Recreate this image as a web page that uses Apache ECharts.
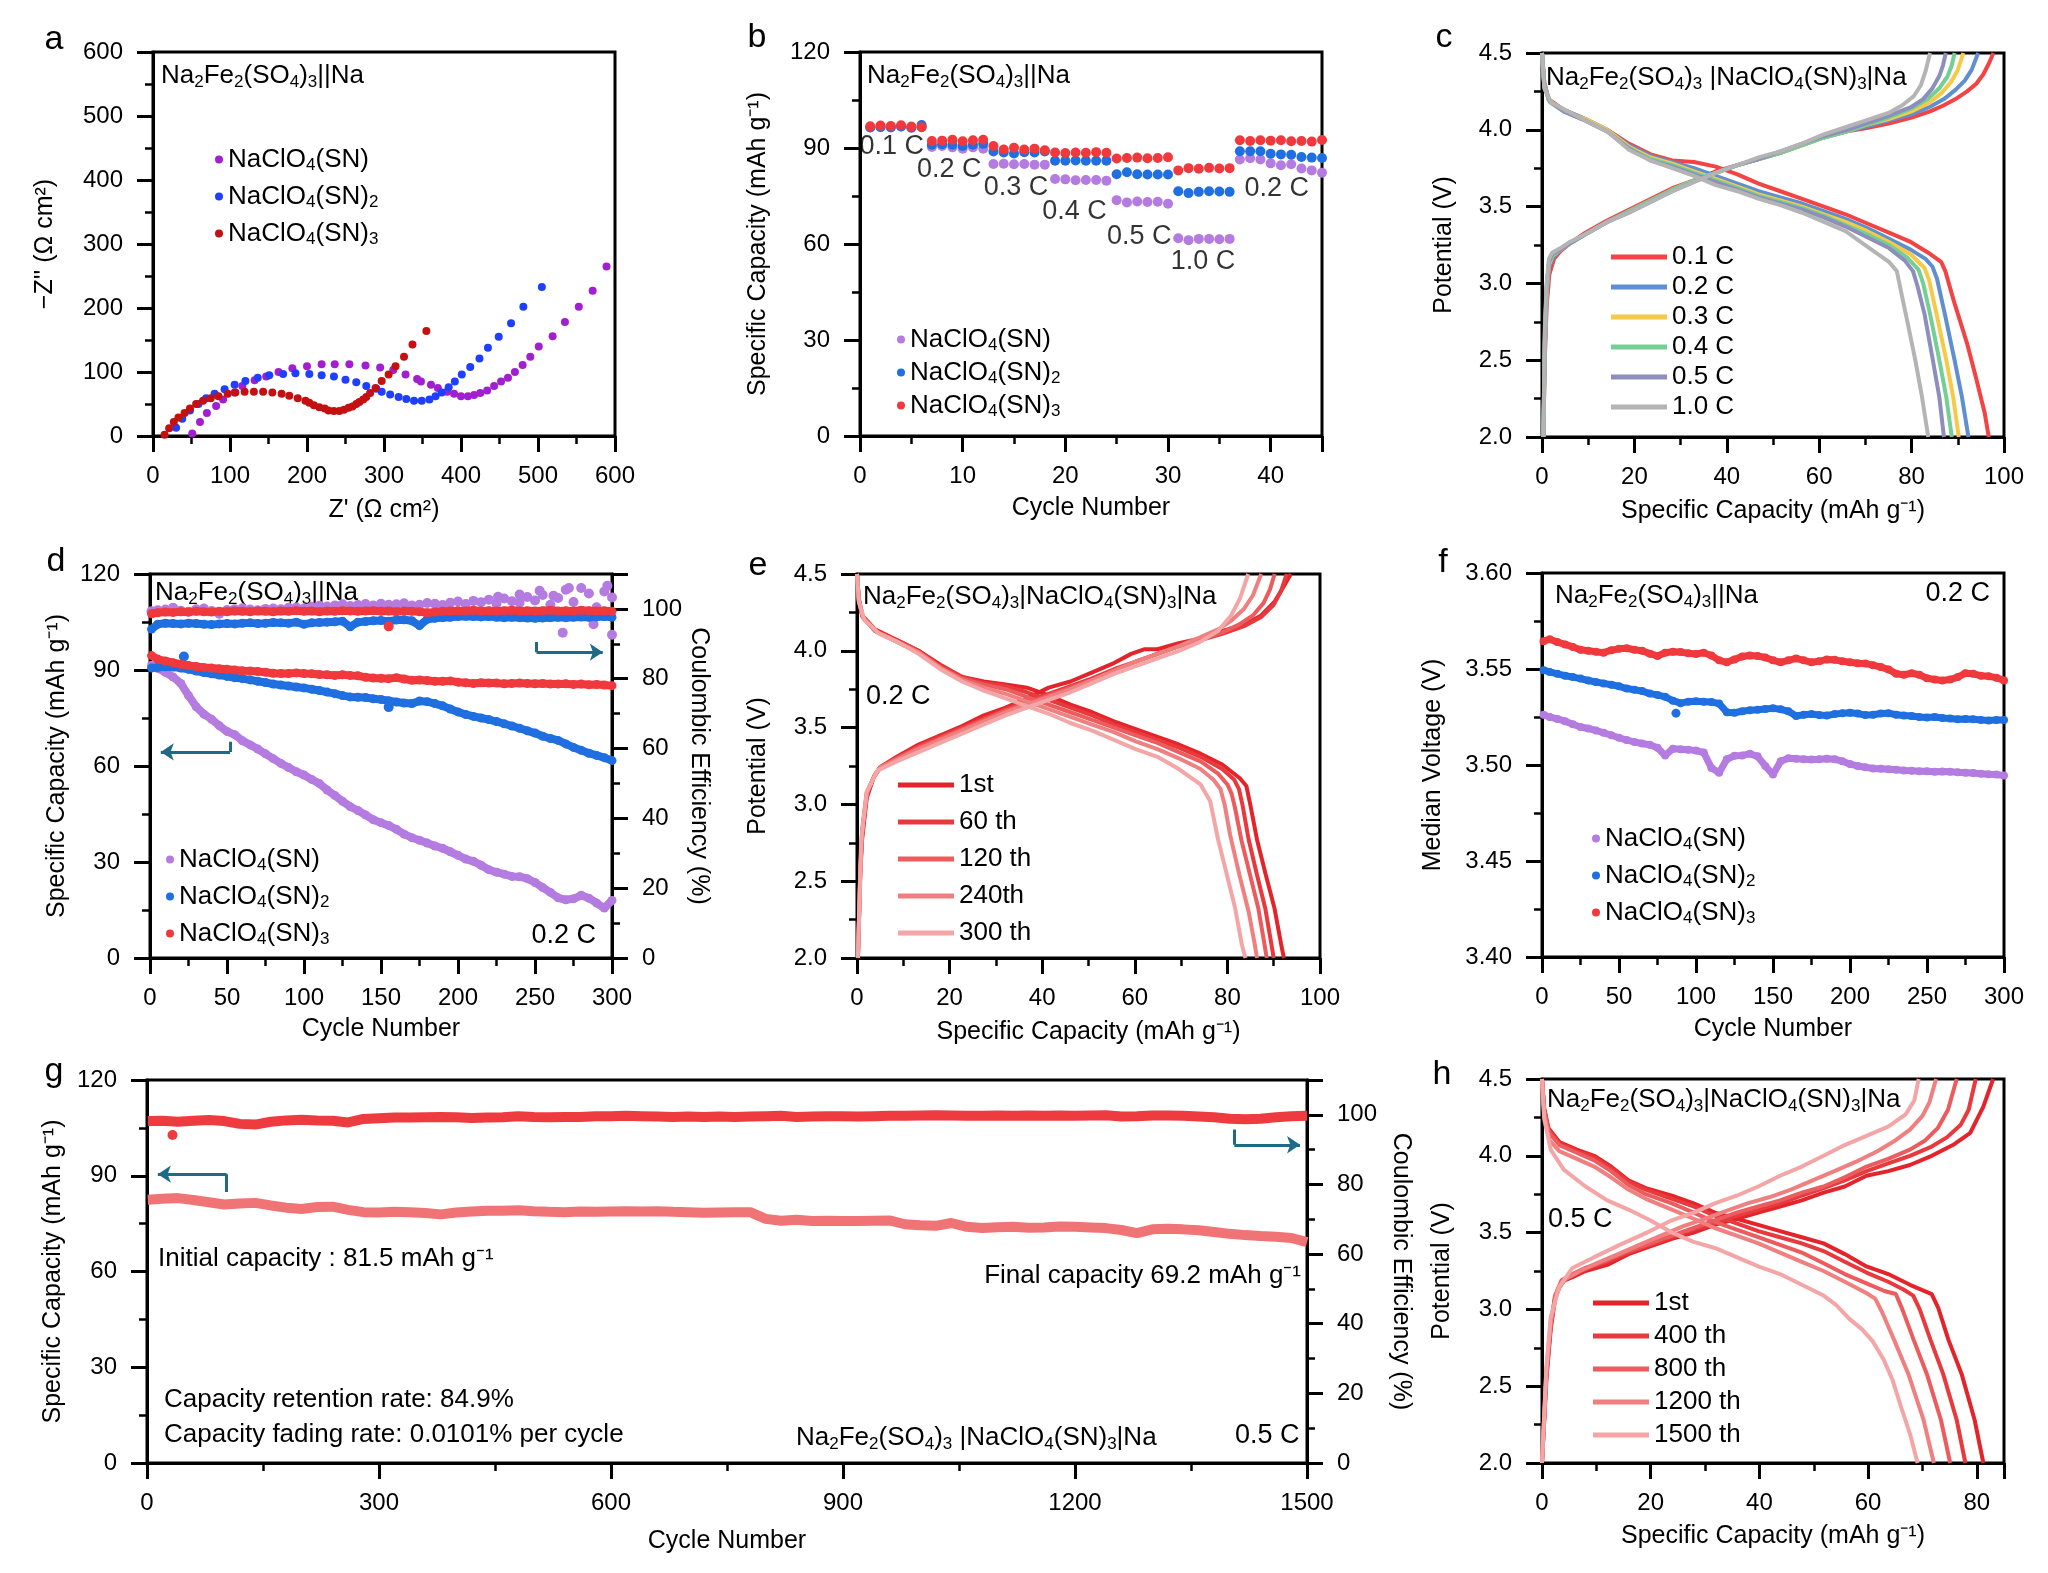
<!DOCTYPE html>
<html lang="en">
<head>
<meta charset="UTF-8">
<title>Na2Fe2(SO4)3 electrochemistry</title>
<script src="https://cdn.jsdelivr.net/npm/echarts@6/dist/echarts.min.js"></script>
<style>
  html, body { margin: 0; padding: 0; background: #fff; }
  #chart { position: relative; width: 2048px; height: 1573px; background: #fff; }
  .panel { position: absolute; left: 0; top: 0; width: 2048px; height: 1573px; }
</style>
</head>
<body>
<div id="chart"></div>
<script>
// ---------- data ----------
// a: Nyquist plots [Z', -Z'']
var aSN1 = [[51,4],[61,22],[70,36],[82,47],[91,57],[106,68],[116,78],[132,87],[147,93],[163,100],[181,106],[200,109],[219,112],[236,112],[255,112],[276,110],[295,107],[312,103],[328,96],[343,89],[348,85],[361,80],[370,75],[382,69],[391,66],[400,62],[409,62],[417,64],[425,67],[434,71],[443,78],[452,85],[461,91],[470,100],[480,111],[490,124],[501,140],[519,156],[535,178],[553,202],[571,227],[589,265]];
var aSN2 = [[30,13],[38,27],[48,40],[59,50],[69,59],[80,66],[93,73],[106,80],[120,86],[136,91],[151,95],[169,97],[185,98],[203,97],[219,95],[235,93],[250,88],[264,84],[277,78],[290,74],[297,69],[308,65],[319,61],[329,58],[339,55],[349,55],[359,57],[367,62],[375,68],[384,76],[392,85],[401,96],[412,108],[424,121],[435,138],[449,155],[465,176],[481,202],[505,233]];
var aSN3 = [[15,2],[21,12],[27,22],[33,29],[41,36],[48,43],[56,50],[65,55],[75,59],[85,62],[97,66],[107,68],[119,69],[131,69],[143,69],[155,68],[167,66],[177,63],[188,59],[198,55],[203,52],[209,48],[216,45],[223,43],[228,40],[235,39],[242,39],[248,41],[254,44],[259,46],[264,50],[268,53],[273,57],[277,61],[282,67],[289,75],[297,86],[306,96],[315,109],[326,124],[337,143],[355,164]];

// b: rate capability
var bCycles = [1,2,3,4,5,6,7,8,9,10,11,12,13,14,15,16,17,18,19,20,21,22,23,24,25,26,27,28,29,30,31,32,33,34,35,36,37,38,39,40,41,42,43,44,45];
var bSN1 = [96.5,96.5,96.4,96.7,96.3,96.6, 90.3,90.6,90.2,89.8,90.2,89.8, 85.0,85.1,84.9,85.0,84.8,84.8, 80.3,80.2,79.9,80.0,80.0,79.8, 73.7,73.0,73.3,73.1,73.2,72.6, 61.8,61.2,61.6,61.6,61.5,61.6, 86.4,86.8,86.4,85.2,84.6,84.9,83.6,83.0,82.3];
var bSN2 = [96.4,96.6,96.5,96.7,96.4,97.2, 91.0,91.2,91.0,90.6,91.0,91.3, 88.9,88.6,88.3,88.7,88.6,88.9, 86.0,86.0,86.1,86.0,86.0,86.0, 81.8,82.4,81.8,81.7,81.7,81.7, 76.5,75.9,76.3,76.5,76.4,76.3, 89.0,89.0,89.0,88.2,88.0,87.9,87.2,87.0,86.9];
var bSN3 = [96.8,97.0,96.9,97.1,96.7,96.5, 92.2,92.3,92.6,92.1,92.4,92.6, 90.6,89.5,90.1,89.5,89.8,89.3, 88.6,88.4,88.6,88.5,88.7,88.5, 86.7,86.9,87.0,86.8,86.9,87.1, 83.0,83.7,83.5,83.8,83.6,83.7, 92.4,92.2,92.4,92.3,92.4,92.1,92.2,92.0,92.5];
var bRateText = ['0.1 C','0.2 C','0.3 C','0.4 C','0.5 C','1.0 C','0.2 C'];
var bRateAt = [[3.1,90.3],[8.7,83.4],[15.2,77.5],[20.9,70],[27.2,62.2],[33.4,54.4],[40.6,77.2]];

// c: charge / discharge at different rates [capacity, potential]
var cRates = ['0.1 C','0.2 C','0.3 C','0.4 C','0.5 C','1.0 C'];
var cChg01 = [[0.3,2.0],[0.6,2.5],[1.0,2.85],[1.6,3.06],[2.6,3.16],[4,3.21],[6,3.26],[9.4,3.33],[14.1,3.41],[18.8,3.48],[23.5,3.55],[28.2,3.62],[32.9,3.67],[37.6,3.73],[42.3,3.77],[46.9,3.81],[51.6,3.85],[56.3,3.9],[61,3.95],[66,3.99],[70,4.01],[75,4.04],[80,4.08],[84,4.12],[87,4.16],[89.5,4.2],[92,4.25],[94,4.3],[95.5,4.36],[96.7,4.43],[97.7,4.5]];
var cChg02 = [[0.3,2.0],[0.6,2.55],[1.0,2.9],[1.5,3.1],[2.4,3.17],[4,3.22],[6,3.26],[9.4,3.32],[14.1,3.4],[18.8,3.47],[23.5,3.54],[28.2,3.61],[32.9,3.67],[37.6,3.72],[42.3,3.77],[46.9,3.81],[51.6,3.85],[56.3,3.9],[61,3.95],[66,3.99],[70,4.02],[75,4.06],[80,4.1],[84,4.15],[87,4.2],[89.5,4.26],[91.5,4.32],[93,4.39],[94.4,4.5]];
var cChg03 = [[0.3,2.0],[0.6,2.6],[1.0,2.95],[1.5,3.12],[2.3,3.18],[4,3.22],[6,3.26],[9.4,3.32],[14.1,3.4],[18.8,3.47],[23.5,3.54],[28.2,3.61],[32.9,3.67],[37.6,3.72],[42.3,3.77],[46.9,3.81],[51.6,3.85],[56.3,3.9],[61,3.95],[66,3.99],[70,4.03],[75,4.07],[80,4.12],[84,4.18],[86.5,4.24],[88.5,4.31],[90,4.39],[91.2,4.5]];
var cChg04 = [[0.3,2.0],[0.6,2.62],[1.0,2.97],[1.5,3.13],[2.3,3.18],[4,3.22],[6,3.26],[9.4,3.32],[14.1,3.4],[18.8,3.47],[23.5,3.54],[28.2,3.61],[32.9,3.67],[37.6,3.72],[42.3,3.77],[46.9,3.81],[51.6,3.85],[56.3,3.9],[61,3.95],[66,3.99],[70,4.03],[75,4.08],[80,4.14],[83.5,4.2],[86,4.27],[87.8,4.35],[88.7,4.42],[89.3,4.5]];
var cChg05 = [[0.3,2.0],[0.6,2.65],[1.0,2.98],[1.5,3.14],[2.2,3.19],[4,3.22],[6,3.26],[9.4,3.32],[14.1,3.4],[18.8,3.46],[23.5,3.53],[28.2,3.6],[32.9,3.66],[37.6,3.72],[42.3,3.77],[46.9,3.81],[51.6,3.86],[56.3,3.91],[61,3.96],[66,4.0],[70,4.04],[75,4.09],[80,4.15],[82.5,4.2],[84.5,4.27],[86,4.35],[86.8,4.42],[87.4,4.5]];
var cChg10 = [[0.3,2.0],[0.6,2.7],[1.0,3.0],[1.5,3.16],[2.2,3.2],[4,3.23],[6,3.27],[9.4,3.32],[14.1,3.4],[18.8,3.46],[23.5,3.53],[28.2,3.6],[32.9,3.66],[37.6,3.72],[42.3,3.77],[46.9,3.82],[51.6,3.86],[56.3,3.91],[61,3.97],[66,4.02],[70,4.06],[75,4.11],[78,4.16],[80.5,4.22],[82,4.29],[83,4.38],[84,4.5]];
var cDis01 = [[0,4.5],[0.5,4.31],[1.4,4.2],[4.7,4.13],[9.4,4.07],[14.1,4.0],[18.8,3.91],[23.5,3.84],[28.2,3.8],[32.9,3.79],[37.6,3.76],[42.3,3.71],[46.9,3.65],[51.6,3.6],[56.3,3.55],[61,3.5],[65.7,3.45],[70.4,3.39],[75.1,3.33],[79.8,3.27],[83.6,3.2],[86.4,3.14],[87.3,3.08],[89.2,2.88],[92.0,2.61],[93.9,2.39],[95.8,2.16],[96.7,2.0]];
var cDis02 = [[0,4.5],[0.5,4.3],[1.5,4.19],[4.7,4.13],[9.4,4.07],[14.1,4.0],[18.8,3.9],[23.5,3.83],[28.2,3.79],[32.9,3.75],[37.6,3.7],[42.3,3.65],[46.9,3.6],[51.6,3.56],[56.3,3.52],[61,3.47],[65.7,3.42],[70.4,3.36],[75.1,3.29],[79.8,3.22],[83,3.16],[84.5,3.11],[85.5,3.03],[87.2,2.8],[89.3,2.5],[90.9,2.26],[92.3,2.0]];
var cDis03 = [[0,4.5],[0.5,4.29],[1.6,4.19],[4.7,4.12],[9.4,4.07],[14.1,4.0],[18.8,3.89],[23.5,3.82],[28.2,3.78],[32.9,3.73],[37.6,3.68],[42.3,3.63],[46.9,3.58],[51.6,3.54],[56.3,3.5],[61,3.45],[65.7,3.4],[70.4,3.34],[75.1,3.27],[79.8,3.19],[82.8,3.1],[83.8,3.02],[85.4,2.8],[87.5,2.5],[89.0,2.26],[90.2,2.0]];
var cDis04 = [[0,4.5],[0.5,4.28],[1.7,4.18],[4.7,4.12],[9.4,4.06],[14.1,3.99],[18.8,3.88],[23.5,3.81],[28.2,3.77],[32.9,3.72],[37.6,3.67],[42.3,3.62],[46.9,3.57],[51.6,3.53],[56.3,3.49],[61,3.44],[65.7,3.38],[70.4,3.32],[75.1,3.25],[79,3.17],[81.5,3.09],[82.5,3.0],[84,2.8],[86,2.5],[87.5,2.26],[88.7,2.0]];
var cDis05 = [[0,4.5],[0.5,4.28],[1.8,4.18],[4.7,4.12],[9.4,4.06],[14.1,3.99],[18.8,3.88],[23.5,3.8],[28.2,3.76],[32.9,3.71],[37.6,3.66],[42.3,3.61],[46.9,3.56],[51.6,3.52],[56.3,3.48],[61,3.43],[65.7,3.37],[70.4,3.3],[75.1,3.23],[78.5,3.15],[80.3,3.08],[81.3,2.98],[82.8,2.8],[84.6,2.5],[86.0,2.26],[87.0,2.0]];
var cDis10 = [[0,4.5],[0.5,4.27],[1.9,4.18],[5.6,4.12],[9.4,4.06],[14.1,3.99],[18.8,3.87],[23.5,3.8],[28.2,3.75],[32.9,3.7],[37.6,3.64],[42.3,3.6],[46.9,3.55],[51.6,3.51],[56.3,3.46],[61,3.4],[65.7,3.34],[70.4,3.24],[75.1,3.14],[76.8,3.08],[77.9,2.92],[79.3,2.72],[80.8,2.5],[82.2,2.27],[83.6,2.0]];

// d: cycling at 0.2 C, capacity (left) and coulombic efficiency (right)
var dCycles = [1,5,10,15,20,25,30,35,40,45,50,55,60,65,70,75,80,85,90,95,100,105,110,115,120,125,130,135,140,145,150,155,160,165,170,175,180,185,190,195,200,205,210,215,220,225,230,235,240,245,250,255,260,265,270,275,280,285,290,295,300];
var dCapSN1 = [91.5,90.5,89.3,87.8,85.8,82.0,78.5,76.2,74.6,72.6,70.8,69.8,67.9,66.6,65.3,63.8,62.3,60.8,59.5,58.2,57.2,55.8,54.5,52.5,50.8,49.0,47.3,46.1,44.7,43.2,42.3,41.4,40.2,38.7,37.6,36.8,35.9,35.0,34.3,33.2,32.1,30.9,30.2,29.0,27.6,26.8,26.2,25.5,25.4,24.8,23.6,22.0,20.5,18.8,18.2,18.5,19.6,18.7,17.2,15.6,18.0];
var dCapSN2 = [90.6,90.8,91.0,90.9,90.6,90.2,89.7,89.2,88.8,88.4,88.0,87.6,87.3,86.9,86.5,86.1,85.6,85.3,85.0,84.7,84.4,84.0,83.6,83.1,82.6,82.0,81.6,81.5,81.4,81.0,80.8,80.4,80.0,79.7,79.5,80.3,80.1,79.5,78.8,77.8,76.9,76.1,75.5,75.0,74.5,73.9,73.2,72.5,71.8,71.0,70.3,69.3,68.6,68.0,66.9,65.8,64.9,64.0,63.3,62.6,61.7];
var dCapSN3 = [94.5,93.4,92.8,92.3,91.8,91.4,91.1,90.8,90.6,90.4,90.2,90.0,89.8,89.7,89.5,89.3,89.0,88.9,88.9,89.1,88.9,88.8,88.6,88.5,88.3,88.5,88.3,88.2,87.7,87.5,87.4,87.3,87.6,87.2,86.8,86.9,86.7,86.5,86.5,86.6,86.2,86.0,85.8,86.0,85.9,85.9,85.7,85.8,85.9,85.8,85.7,85.8,85.6,85.6,85.7,85.5,85.6,85.4,85.5,85.3,85.1];
var dCeSN1 = [99.3,99.6,99.8,100.3,99.5,99.2,99.9,100.1,99.4,98.6,99.7,99.9,100.2,99.8,99.6,100.0,100.1,99.9,100.3,100.4,100.1,100.6,100.9,100.7,101.0,101.3,100.8,101.1,101.4,101.0,101.5,101.2,101.3,101.6,101.0,101.2,101.7,101.5,101.1,101.8,102.1,101.4,102.3,101.9,102.6,101.5,103.0,102.2,101.8,103.4,102.4,104.0,101.2,103.1,105.5,102.0,98.6,104.4,100.5,105.0,92.6];
var dCeSN2 = [94.2,95.6,95.9,95.8,95.7,95.9,95.8,95.6,95.5,95.7,95.8,95.7,95.9,96.0,95.8,95.9,96.1,96.0,95.9,96.2,95.6,96.0,96.1,96.2,96.3,96.5,94.9,96.2,96.4,96.6,96.7,96.5,96.8,96.9,96.6,95.2,97.0,97.3,97.5,97.6,97.8,97.9,97.8,97.7,97.8,97.6,97.5,97.6,97.5,97.4,97.3,97.4,97.5,97.6,97.5,97.6,97.7,97.6,97.7,97.8,97.6];
var dCeSN3 = [98.6,98.9,99.1,99.0,99.2,99.1,99.3,99.2,99.1,99.3,99.2,99.4,99.3,99.2,99.4,99.3,99.2,99.4,99.3,99.5,99.3,99.4,99.2,99.4,99.3,99.5,99.4,99.3,99.4,99.5,99.3,99.4,99.2,99.4,99.3,99.2,98.9,99.1,99.3,99.4,99.5,99.4,99.6,99.4,99.5,99.4,99.5,99.6,99.4,99.5,99.4,99.5,99.6,99.4,99.5,99.4,99.6,99.5,99.4,99.5,99.3];
var dCeSN1Extra = [[226,103.5],[240,104.1],[253,105.2],[262,103.8],[268,93.2],[272,106.0],[280,106.0],[288,95.6],[297,106.6],[300,103.3]];
var dCapSN2Extra = [[22,94.2],[155,78.4]];
var dCeSN3Extra = [[155,95.0]];
var dArrowLeft = [[52,67.6],[52,64.4],[7,64.4]];
var dArrowRight = [[251,90.5],[251,87.6],[294,87.6]];

// e: NaClO4(SN)3 cell at 0.2 C, selected cycles
var eCyc = ['1st','60 th','120 th','240th','300 th'];
var eChg1 = [[0.2,2.0],[0.7,2.54],[1.1,2.77],[2.1,3.04],[3.5,3.17],[4.9,3.24],[8.6,3.31],[13.3,3.39],[18,3.45],[22.7,3.51],[27.4,3.58],[32.1,3.63],[36.7,3.69],[41.4,3.76],[46.1,3.8],[50.8,3.86],[55.5,3.92],[59.2,3.98],[62,4.01],[64.9,4.01],[69.5,4.05],[74.2,4.08],[78.9,4.13],[83.6,4.17],[87.3,4.23],[90.2,4.32],[92,4.41],[93.7,4.5]];
var eChg60 = [[0.2,2.0],[0.7,2.56],[1.1,2.8],[2.1,3.06],[3.7,3.18],[5,3.24],[8.6,3.3],[13.3,3.38],[18,3.44],[22.7,3.5],[27.4,3.56],[32.1,3.62],[36.7,3.67],[41.4,3.72],[46.1,3.77],[50.8,3.82],[55.5,3.88],[60.2,3.93],[64.9,3.98],[69.5,4.03],[74.2,4.07],[78.9,4.11],[83.6,4.16],[87.3,4.22],[90,4.3],[91.6,4.39],[92.8,4.5]];
var eChg120 = [[0.2,2.0],[0.7,2.58],[1.1,2.82],[2.1,3.07],[3.8,3.19],[5,3.24],[8.6,3.3],[13.3,3.37],[18,3.43],[22.7,3.49],[27.4,3.55],[32.1,3.61],[36.7,3.66],[41.4,3.71],[46.1,3.76],[50.8,3.81],[55.5,3.87],[60.2,3.93],[64.9,3.98],[69.5,4.03],[74.2,4.07],[78.9,4.12],[82.5,4.17],[85.5,4.23],[87.8,4.31],[89.2,4.4],[90.2,4.5]];
var eChg240 = [[0.2,2.0],[0.8,2.62],[1.2,2.86],[2.1,3.08],[4,3.2],[5,3.24],[8.6,3.29],[13.3,3.36],[18,3.42],[22.7,3.48],[27.4,3.54],[32.1,3.6],[36.7,3.65],[41.4,3.7],[46.1,3.75],[50.8,3.81],[55.5,3.87],[60.2,3.93],[64.9,3.98],[69.5,4.03],[74.2,4.09],[78,4.14],[81,4.2],[83.5,4.27],[85.5,4.36],[87.3,4.5]];
var eChg300 = [[0.2,2.0],[0.9,2.77],[2.1,3.08],[4.4,3.22],[8.6,3.28],[13.3,3.34],[18,3.4],[22.7,3.46],[27.4,3.52],[32.1,3.58],[36.7,3.63],[41.4,3.68],[46.1,3.73],[50.8,3.79],[55.5,3.85],[60.2,3.9],[64.9,3.95],[69.5,4.0],[74.2,4.06],[78,4.13],[80.8,4.23],[82.7,4.34],[84.5,4.5]];
var eDis1 = [[0,4.5],[0.4,4.34],[1.1,4.23],[3.9,4.14],[8.6,4.07],[13.3,4.0],[18,3.91],[22.7,3.83],[27.4,3.8],[32.1,3.78],[36.7,3.76],[41.4,3.71],[46.1,3.65],[50.8,3.6],[55.5,3.54],[60.2,3.49],[64.9,3.44],[69.5,3.39],[74.2,3.33],[78.9,3.26],[82.7,3.17],[84.1,3.12],[85,2.99],[86.4,2.77],[88.3,2.54],[90.2,2.32],[91.6,2.09],[92.2,2.0]];
var eDis60 = [[0,4.5],[0.4,4.33],[1.2,4.22],[3.9,4.13],[8.6,4.07],[13.3,4.0],[18,3.9],[22.7,3.83],[27.4,3.79],[32.1,3.77],[36.7,3.73],[41.4,3.68],[46.1,3.63],[50.8,3.58],[55.5,3.52],[60.2,3.47],[64.9,3.42],[69.5,3.37],[74.2,3.31],[78.9,3.23],[81.5,3.16],[82.5,3.1],[83.3,2.99],[84.6,2.77],[86.4,2.54],[88.2,2.32],[89.5,2.09],[90,2.0]];
var eDis120 = [[0,4.5],[0.4,4.33],[1.3,4.22],[3.9,4.13],[8.6,4.06],[13.3,3.99],[18,3.89],[22.7,3.82],[27.4,3.78],[32.1,3.75],[36.7,3.7],[41.4,3.65],[46.1,3.6],[50.8,3.55],[55.5,3.5],[60.2,3.45],[64.9,3.4],[69.5,3.34],[74.2,3.28],[78,3.2],[80,3.13],[80.9,3.07],[81.7,2.97],[83,2.77],[84.9,2.54],[86.7,2.32],[88,2.09],[88.5,2.0]];
var eDis240 = [[0,4.5],[0.4,4.32],[1.4,4.21],[4.4,4.12],[8.6,4.06],[13.3,3.99],[18,3.89],[22.7,3.81],[27.4,3.76],[32.1,3.72],[36.7,3.67],[41.4,3.62],[46.1,3.57],[50.8,3.52],[55.5,3.47],[60.2,3.41],[64.9,3.36],[69.5,3.3],[74.2,3.23],[77,3.16],[78.5,3.1],[79.4,3.0],[80.6,2.8],[82.6,2.54],[84.6,2.3],[85.9,2.09],[86.4,2.0]];
var eDis300 = [[0,4.5],[0.4,4.32],[1.6,4.2],[4.9,4.11],[8.6,4.06],[13.3,3.98],[18,3.88],[22.7,3.8],[27.4,3.74],[32.1,3.69],[36.7,3.64],[41.4,3.59],[46.1,3.53],[50.8,3.48],[55.5,3.42],[60.2,3.36],[64.9,3.31],[69.5,3.23],[74.2,3.13],[76.3,3.02],[78,2.77],[79.9,2.54],[81.7,2.32],[83.1,2.09],[83.9,2.0]];

// f: median voltage
var fSN1 = [3.5262,3.5250,3.5240,3.5228,3.5212,3.5198,3.5190,3.5180,3.5168,3.5155,3.5142,3.5130,3.5120,3.5112,3.5105,3.5090,3.5050,3.5085,3.5082,3.5080,3.5075,3.5065,3.4985,3.4960,3.5030,3.5048,3.5050,3.5058,3.5045,3.4995,3.4950,3.5020,3.5035,3.5032,3.5030,3.5028,3.5030,3.5032,3.5030,3.5020,3.5005,3.4995,3.4988,3.4982,3.4980,3.4978,3.4975,3.4972,3.4970,3.4968,3.4968,3.4965,3.4966,3.4965,3.4962,3.4960,3.4958,3.4955,3.4952,3.4950,3.4945];
var fSN2 = [3.5494,3.5485,3.5475,3.5465,3.5458,3.5450,3.5440,3.5432,3.5425,3.5418,3.5410,3.5398,3.5392,3.5385,3.5372,3.5365,3.5355,3.5335,3.5322,3.5330,3.5332,3.5330,3.5328,3.5320,3.5275,3.5272,3.5280,3.5285,3.5288,3.5292,3.5295,3.5290,3.5280,3.5255,3.5262,3.5265,3.5260,3.5258,3.5265,3.5270,3.5272,3.5268,3.5260,3.5262,3.5268,3.5270,3.5262,3.5258,3.5255,3.5250,3.5248,3.5250,3.5245,3.5242,3.5238,3.5240,3.5238,3.5235,3.5232,3.5235,3.5235];
var fSN3 = [3.5645,3.5655,3.5640,3.5628,3.5615,3.5600,3.5595,3.5590,3.5585,3.5598,3.5605,3.5608,3.5600,3.5595,3.5580,3.5568,3.5585,3.5590,3.5588,3.5582,3.5578,3.5585,3.5570,3.5545,3.5535,3.5550,3.5565,3.5570,3.5568,3.5560,3.5545,3.5535,3.5545,3.5555,3.5545,3.5535,3.5540,3.5550,3.5548,3.5540,3.5535,3.5530,3.5528,3.5520,3.5510,3.5498,3.5475,3.5470,3.5478,3.5470,3.5452,3.5445,3.5440,3.5445,3.5458,3.5478,3.5475,3.5465,3.5462,3.5455,3.5440];
var fSN2Extra = [[87,3.527]];

// g: long cycling at 0.5 C
var gCycles = [1,20,40,60,80,100,120,140,160,180,200,220,240,260,280,300,320,340,360,380,400,420,440,460,480,500,520,540,560,580,600,620,640,660,680,700,720,740,760,780,800,820,840,860,880,900,920,940,960,980,1000,1020,1040,1060,1080,1100,1120,1140,1160,1180,1200,1220,1240,1260,1280,1300,1320,1340,1360,1380,1400,1420,1440,1460,1480,1500];
var gCap = [82.5,82.8,83.0,82.4,81.7,81.0,81.3,81.5,80.7,80.0,79.6,80.2,80.3,79.3,78.6,78.5,78.7,78.6,78.3,77.9,78.5,78.8,79.0,79.0,79.2,78.9,78.7,78.6,78.8,78.7,78.8,78.9,78.8,78.9,78.7,78.6,78.4,78.5,78.6,78.6,76.5,75.9,76.2,75.8,75.9,75.8,75.8,75.9,76.0,74.8,74.5,74.3,75.2,74.0,73.6,73.9,74.0,73.7,73.8,74.1,74.0,73.8,73.6,73.0,72.0,73.2,73.4,73.2,72.9,72.4,71.8,71.4,71.1,70.9,70.5,69.2];
var gCe = [98.2,98.3,98.0,98.3,98.5,98.2,97.4,97.2,98.0,98.4,98.6,98.4,98.3,97.8,98.8,99.0,99.2,99.2,99.3,99.4,99.3,99.1,99.2,99.3,99.6,99.4,99.3,99.4,99.4,99.6,99.6,99.7,99.6,99.5,99.4,99.5,99.4,99.5,99.4,99.5,99.6,99.7,99.4,99.5,99.6,99.6,99.5,99.6,99.7,99.7,99.8,99.9,99.8,99.7,99.7,99.8,99.7,99.8,99.7,99.8,99.7,99.8,99.9,99.5,99.6,99.8,99.8,99.7,99.5,99.3,98.9,98.7,98.9,99.3,99.6,99.7];
var gCeExtra = [[33,94.2]];
var gArrowLeft = [[103,84.9],[103,90.5],[14,90.5]];
var gArrowRight = [[1406,95.8],[1406,91.4],[1491,91.4]];

// h: NaClO4(SN)3 cell at 0.5 C, selected cycles
var hCyc = ['1st','400 th','800 th','1200 th','1500 th'];
var hChg1 = [[0,2.0],[0.8,2.54],[1.6,2.87],[2.4,3.07],[3.6,3.18],[5.6,3.21],[8,3.25],[12,3.29],[15.9,3.36],[19.9,3.41],[23.9,3.46],[27.9,3.5],[31.8,3.55],[35.8,3.59],[39.8,3.63],[43.8,3.67],[47.8,3.71],[51.8,3.76],[55.7,3.8],[59.7,3.87],[63.7,3.9],[67.7,3.94],[71.7,4.0],[75.6,4.07],[78.8,4.15],[81.2,4.32],[83,4.5]];
var hChg400 = [[0,2.0],[0.8,2.56],[1.6,2.89],[2.4,3.08],[3.6,3.18],[5.6,3.22],[8,3.26],[12,3.31],[15.9,3.37],[19.9,3.42],[23.9,3.47],[27.9,3.52],[31.8,3.56],[35.8,3.61],[39.8,3.65],[43.8,3.69],[47.8,3.74],[51.8,3.79],[55.7,3.84],[59.7,3.9],[63.7,3.95],[67.7,4.0],[71.7,4.06],[74.5,4.12],[77,4.2],[78.5,4.3],[79.8,4.5]];
var hChg800 = [[0,2.0],[0.8,2.58],[1.6,2.9],[2.4,3.09],[3.6,3.19],[5.6,3.23],[8,3.27],[12,3.32],[15.9,3.38],[19.9,3.43],[23.9,3.48],[27.9,3.53],[31.8,3.58],[35.8,3.63],[39.8,3.67],[43.8,3.71],[47.8,3.76],[51.8,3.8],[55.7,3.86],[59.7,3.93],[63.7,3.98],[67.7,4.04],[70.5,4.1],[72.8,4.18],[74.7,4.3],[76.3,4.5]];
var hChg1200 = [[0,2.0],[0.8,2.6],[1.6,2.92],[2.8,3.12],[4.4,3.2],[7,3.25],[10,3.3],[14,3.36],[17.9,3.42],[21.9,3.48],[25.9,3.54],[29.9,3.59],[33.8,3.64],[37.8,3.69],[41.8,3.73],[45.8,3.78],[49.8,3.84],[53.8,3.9],[57.7,3.96],[61.7,4.03],[65,4.1],[67.7,4.17],[70,4.26],[71.3,4.35],[72.5,4.5]];
var hChg1500 = [[0,2.0],[0.8,2.62],[1.6,2.95],[3.2,3.15],[5.6,3.27],[9.6,3.34],[14.3,3.42],[19.9,3.51],[23.9,3.58],[27.9,3.63],[31.8,3.69],[35.8,3.74],[39.8,3.8],[43.8,3.87],[47.8,3.93],[51.8,4.0],[55.7,4.07],[59.7,4.13],[63.7,4.19],[66.9,4.27],[68.5,4.36],[69.3,4.5]];
var hDis1 = [[0,4.5],[0.4,4.31],[1.2,4.18],[3.2,4.09],[6.4,4.04],[9.6,4.0],[12.7,3.93],[15.9,3.84],[19.1,3.79],[23.9,3.74],[27.9,3.69],[31.8,3.63],[35.8,3.59],[39.8,3.55],[43.8,3.51],[47.8,3.47],[51.8,3.43],[55.7,3.36],[59.7,3.28],[63.7,3.23],[67.7,3.16],[71.7,3.1],[72.9,3.01],[74.8,2.8],[77.2,2.58],[79.6,2.28],[81.2,2.0]];
var hDis400 = [[0,4.5],[0.4,4.3],[1.2,4.17],[3.2,4.08],[6.4,4.03],[9.6,3.99],[12.7,3.92],[15.9,3.83],[19.1,3.78],[23.9,3.72],[27.9,3.67],[31.8,3.61],[35.8,3.56],[39.8,3.51],[43.8,3.47],[47.8,3.43],[51.8,3.38],[55.7,3.31],[59.7,3.24],[63.7,3.18],[66.5,3.13],[68.3,3.09],[69.5,3.0],[71.5,2.8],[73.8,2.58],[76.3,2.28],[77.9,2.0]];
var hDis800 = [[0,4.5],[0.4,4.29],[1.3,4.15],[3.2,4.07],[6.4,4.02],[9.6,3.97],[12.7,3.9],[15.9,3.81],[19.1,3.75],[23.9,3.69],[27.9,3.63],[31.8,3.57],[35.8,3.52],[39.8,3.47],[43.8,3.42],[47.8,3.37],[51.8,3.3],[55.7,3.23],[59.7,3.17],[63,3.12],[65.1,3.1],[66.3,3.0],[68.4,2.8],[70.8,2.58],[73.4,2.28],[75.1,2.0]];
var hDis1200 = [[0,4.5],[0.4,4.27],[1.4,4.1],[3.2,4.03],[6.4,3.98],[9.6,3.93],[12.7,3.86],[15.9,3.78],[19.1,3.72],[23.9,3.65],[27.9,3.59],[31.8,3.53],[35.8,3.48],[39.8,3.43],[43.8,3.37],[47.8,3.31],[51.8,3.25],[55.7,3.18],[59.5,3.11],[61.3,3.07],[62.6,2.98],[64.8,2.8],[67.4,2.58],[70.2,2.28],[72.1,2.0]];
var hDis1500 = [[0,4.5],[0.4,4.24],[1.6,4.04],[4,3.91],[8,3.8],[12,3.71],[15.9,3.65],[19.9,3.58],[23.9,3.5],[27.9,3.44],[31.8,3.4],[35.8,3.34],[39.8,3.28],[43.8,3.23],[47.8,3.16],[51.8,3.09],[54.1,3.03],[56.5,2.94],[58.9,2.87],[60.9,2.79],[62.9,2.67],[64.5,2.54],[66.1,2.36],[67.7,2.19],[69.1,2.0]];

// ---------- look ----------
var FONT = '"Liberation Sans", Arial, sans-serif';
// rich-text subscripts: {s|2}
var RICH = { s: { fontFamily: FONT, fontSize: 17, lineHeight: 17, padding: [12, 0, 0, 0], color: '#000' } };
var FORMULA = 'Na{s|2}Fe{s|2}(SO{s|4}){s|3}';
var SALT = { SN1: 'NaClO{s|4}(SN)', SN2: 'NaClO{s|4}(SN){s|2}', SN3: 'NaClO{s|4}(SN){s|3}' };
var COL_A = { SN1: '#a21fd0', SN2: '#1f3fff', SN3: '#c41010' };
var COL_B = { SN1: '#b47be0', SN2: '#1f6fe0', SN3: '#f0393d' };
var COL_C = ['#f24444', '#5e8fd0', '#f7c948', '#73cf94', '#8e8ebd', '#b4b4b4'];
var COL_E = ['#e3252b', '#e8393d', '#ec5b5d', '#f07f80', '#f4a6a7'];
var ARROW = '#1f6a86';
// grid boxes [left, top, width, height], one per panel a..h
var BOX = [[153,52,462,384],[860,52,462,384],[1542,53,462,384],[150,574,462,384],[857,574,463,384],[1542,573,462,384],[147,1080,1160,383],[1542,1079,462,384]];

function plain(v) { return String(v); }
function fix(n) { return function (v) { return v.toFixed(n); }; }
function axis(o) {
  return {
    type: 'value', gridIndex: 0, position: o.pos, min: o.min, max: o.max, interval: o.step,
    name: o.name, nameLocation: 'middle', nameGap: o.gap, nameRotate: o.rot,
    nameTextStyle: { fontFamily: FONT, fontSize: 25, color: '#000' },
    axisLine: { show: true, onZero: false, lineStyle: { color: '#000', width: 3 } },
    axisTick: { show: true, length: 16, lineStyle: { color: '#000', width: 3 } },
    minorTick: { show: true, splitNumber: 2, length: 8, lineStyle: { color: '#000', width: 2.5 } },
    splitLine: { show: false },
    axisLabel: { fontFamily: FONT, fontSize: 24, color: '#000', margin: o.margin || 28,
                 showMaxLabel: o.showMax !== false, formatter: o.fmt || plain }
  };
}
function pairs(xs, ys) { return xs.map(function (x, i) { return [x, ys[i]]; }); }
function dots(name, yi, data, color, size, z) {
  return { type: 'scatter', name: name, yAxisIndex: yi, data: data, symbol: 'circle',
           symbolSize: size, itemStyle: { color: color, opacity: 1 }, z: z || 2 };
}
function curve(name, yi, data, color, width, sym, z) {
  return { type: 'line', name: name, yAxisIndex: yi, data: data,
           showSymbol: !!sym, symbol: 'circle', symbolSize: sym || 4,
           itemStyle: { color: color }, lineStyle: { color: color, width: width }, z: z || 2 };
}
// an elbow arrow: plain first leg, arrow-headed second leg
function arrow(yi, path) {
  var base = { type: 'lines', coordinateSystem: 'cartesian2d', yAxisIndex: yi,
               z: 6, symbolSize: [0, 13], lineStyle: { color: ARROW, width: 3, opacity: 1 } };
  return [
    Object.assign({}, base, { symbol: ['none', 'none'], data: [{ coords: [path[0], path[1]] }] }),
    Object.assign({}, base, { symbol: ['none', 'arrow'], data: [{ coords: [path[1], path[2]] }] })
  ];
}
function legend(names, left, top, label, lh, gap, icon, w, h) {
  return { show: true, orient: 'vertical', left: left, top: top, padding: 0, itemGap: gap,
           itemWidth: w, itemHeight: h, icon: icon, data: names, selectedMode: false,
           formatter: label, textStyle: { fontFamily: FONT, fontSize: 26, color: '#000', lineHeight: lh, rich: RICH } };
}
function txt(x, y, text, size, align) {
  return { type: 'text', x: x, y: y, z: 100,
           style: { text: text, fontFamily: FONT, fontSize: size, fill: '#000', lineHeight: 30, rich: RICH,
                    align: align || 'left', verticalAlign: 'middle' } };
}
var saltName = function (n) { return SALT[n.split('|')[1]]; };
var rateName = function (n) { return n.split('|')[1]; };

// ---------- one chart per panel, stacked on the same page ----------
var panels = [];
// a
panels.push({
  x: axis({ pos: 'bottom', min: 0, max: 600, step: 100, name: "Z' (Ω cm²)", gap: 62 }),
  y: [axis({ pos: 'left', min: 0, max: 600, step: 100, name: "−Z'' (Ω cm²)", gap: 95, margin: 30 })],
  series: [dots('a|SN1', 0, aSN1, COL_A.SN1, 8), dots('a|SN2', 0, aSN2, COL_A.SN2, 8), dots('a|SN3', 0, aSN3, COL_A.SN3, 8)],
  legend: legend(['a|SN1', 'a|SN2', 'a|SN3'], 215, 145, saltName, 29, 8, 'circle', 8, 8)
});
// b
panels.push({
  x: axis({ pos: 'bottom', min: 0, max: 45, step: 10, name: 'Cycle Number', gap: 60, showMax: false }),
  y: [axis({ pos: 'left', min: 0, max: 120, step: 30, name: 'Specific Capacity (mAh g⁻¹)', gap: 89, margin: 30 })],
  series: [
    dots('b|SN1', 0, pairs(bCycles, bSN1), COL_B.SN1, 10),
    dots('b|SN2', 0, pairs(bCycles, bSN2), COL_B.SN2, 10),
    dots('b|SN3', 0, pairs(bCycles, bSN3), COL_B.SN3, 10),
    { type: 'scatter', data: bRateAt, symbolSize: 1, z: 10, itemStyle: { color: 'rgba(0,0,0,0)' },
      label: { show: true, position: 'inside', fontFamily: FONT, fontSize: 27, color: '#000',
               formatter: function (p) { return bRateText[p.dataIndex]; } } }
  ],
  legend: legend(['b|SN1', 'b|SN2', 'b|SN3'], 897, 325, saltName, 29, 4, 'circle', 8, 8)
});
// c
var cChg = [cChg01, cChg02, cChg03, cChg04, cChg05, cChg10];
var cDis = [cDis01, cDis02, cDis03, cDis04, cDis05, cDis10];
var cSeries = [];
cRates.forEach(function (r, i) {
  cSeries.push(curve('c|' + r, 0, cChg[i], COL_C[i], 4, 0, 2 + i));
  cSeries.push(curve('c|' + r, 0, cDis[i], COL_C[i], 4, 0, 2 + i));
});
panels.push({
  x: axis({ pos: 'bottom', min: 0, max: 100, step: 20, name: 'Specific Capacity (mAh g⁻¹)', gap: 62 }),
  y: [axis({ pos: 'left', min: 2, max: 4.5, step: 0.5, name: 'Potential (V)', gap: 85, margin: 30, fmt: fix(1) })],
  series: cSeries,
  legend: legend(cRates.map(function (r) { return 'c|' + r; }), 1611, 244, rateName, 26, 4, 'rect', 56, 5)
});
// d
panels.push({
  x: axis({ pos: 'bottom', min: 0, max: 300, step: 50, name: 'Cycle Number', gap: 59 }),
  y: [axis({ pos: 'left', min: 0, max: 120, step: 30, name: 'Specific Capacity (mAh g⁻¹)', gap: 80, margin: 30 }),
      axis({ pos: 'right', min: 0, max: 110, step: 20, name: 'Coulombic Efficiency (%)', gap: 58, margin: 30, rot: -90, showMax: false })],
  series: [
    curve('d|SN1', 0, pairs(dCycles, dCapSN1), COL_B.SN1, 8, 9, 2),
    curve('d|SN2', 0, pairs(dCycles, dCapSN2), COL_B.SN2, 8, 9, 3),
    dots('d|SN2', 0, dCapSN2Extra, COL_B.SN2, 10, 3),
    curve('d|SN3', 0, pairs(dCycles, dCapSN3), COL_B.SN3, 8, 9, 4),
    dots('d|SN1', 1, pairs(dCycles, dCeSN1), COL_B.SN1, 10, 2),
    dots('d|SN1', 1, dCeSN1Extra, COL_B.SN1, 10, 2),
    curve('d|SN2', 1, pairs(dCycles, dCeSN2), COL_B.SN2, 8, 9, 3),
    curve('d|SN3', 1, pairs(dCycles, dCeSN3), COL_B.SN3, 8, 9, 4),
    dots('d|SN3', 1, dCeSN3Extra, COL_B.SN3, 10, 4)
  ].concat(arrow(0, dArrowLeft), arrow(1, dArrowRight)),
  legend: legend(['d|SN1', 'd|SN2', 'd|SN3'], 166, 845, saltName, 29, 8, 'circle', 8, 8)
});
// e
var eChg = [eChg1, eChg60, eChg120, eChg240, eChg300];
var eDis = [eDis1, eDis60, eDis120, eDis240, eDis300];
var eSeries = [];
eCyc.forEach(function (c, i) {
  eSeries.push(curve('e|' + c, 0, eChg[i], COL_E[i], 4, 0, 2 + i));
  eSeries.push(curve('e|' + c, 0, eDis[i], COL_E[i], 4, 0, 2 + i));
});
panels.push({
  x: axis({ pos: 'bottom', min: 0, max: 100, step: 20, name: 'Specific Capacity (mAh g⁻¹)', gap: 62 }),
  y: [axis({ pos: 'left', min: 2, max: 4.5, step: 0.5, name: 'Potential (V)', gap: 86, margin: 30, fmt: fix(1) })],
  series: eSeries,
  legend: legend(eCyc.map(function (c) { return 'e|' + c; }), 898, 771, rateName, 28, 9, 'rect', 56, 5)
});
// f
panels.push({
  x: axis({ pos: 'bottom', min: 0, max: 300, step: 50, name: 'Cycle Number', gap: 60 }),
  y: [axis({ pos: 'left', min: 3.4, max: 3.6, step: 0.05, name: 'Median Voltage (V)', gap: 96, margin: 30, fmt: fix(2) })],
  series: [
    curve('f|SN1', 0, pairs(dCycles, fSN1), COL_B.SN1, 7, 8, 2),
    curve('f|SN2', 0, pairs(dCycles, fSN2), COL_B.SN2, 7, 8, 3),
    dots('f|SN2', 0, fSN2Extra, COL_B.SN2, 9, 3),
    curve('f|SN3', 0, pairs(dCycles, fSN3), COL_B.SN3, 7, 8, 4)
  ],
  legend: legend(['f|SN1', 'f|SN2', 'f|SN3'], 1592, 824, saltName, 29, 8, 'circle', 8, 8)
});
// g
panels.push({
  x: axis({ pos: 'bottom', min: 0, max: 1500, step: 300, name: 'Cycle Number', gap: 66 }),
  y: [axis({ pos: 'left', min: 0, max: 120, step: 30, name: 'Specific Capacity (mAh g⁻¹)', gap: 76, margin: 30 }),
      axis({ pos: 'right', min: 0, max: 110, step: 20, name: 'Coulombic Efficiency (%)', gap: 77, margin: 30, rot: -90, showMax: false })],
  series: [
    curve('g|cap', 0, pairs(gCycles, gCap), '#f07476', 10, 0, 2),
    curve('g|ce', 1, pairs(gCycles, gCe), '#ee3b40', 10, 0, 3),
    dots('g|ce', 1, gCeExtra, '#ee3b40', 10, 3)
  ].concat(arrow(0, gArrowLeft), arrow(1, gArrowRight))
});
// h
var hChg = [hChg1, hChg400, hChg800, hChg1200, hChg1500];
var hDis = [hDis1, hDis400, hDis800, hDis1200, hDis1500];
var hSeries = [];
hCyc.forEach(function (c, i) {
  hSeries.push(curve('h|' + c, 0, hChg[i], COL_E[i], 4, 0, 2 + i));
  hSeries.push(curve('h|' + c, 0, hDis[i], COL_E[i], 4, 0, 2 + i));
});
panels.push({
  x: axis({ pos: 'bottom', min: 0, max: 85, step: 20, name: 'Specific Capacity (mAh g⁻¹)', gap: 61, showMax: false }),
  y: [axis({ pos: 'left', min: 2, max: 4.5, step: 0.5, name: 'Potential (V)', gap: 87, margin: 30, fmt: fix(1) })],
  series: hSeries,
  legend: legend(hCyc.map(function (c) { return 'h|' + c; }), 1593, 1289, rateName, 28, 5, 'rect', 56, 5)
});

// ---------- free text ----------
var notes = [
  txt(54, 40, 'a', 34, 'center'), txt(757, 38, 'b', 34, 'center'), txt(1444, 38, 'c', 34, 'center'),
  txt(56, 562, 'd', 34, 'center'), txt(758, 566, 'e', 34, 'center'), txt(1443, 563, 'f', 34, 'center'),
  txt(54, 1072, 'g', 34, 'center'), txt(1442, 1075, 'h', 34, 'center'),
  txt(161, 76, FORMULA + '||Na', 26),
  txt(867, 76, FORMULA + '||Na', 26),
  txt(1546, 78, FORMULA + ' |NaClO{s|4}(SN){s|3}|Na', 26),
  txt(155, 593, FORMULA + '||Na', 26),
  txt(596, 936, '0.2 C', 27, 'right'),
  txt(863, 597, FORMULA + '|NaClO{s|4}(SN){s|3}|Na', 26),
  txt(866, 697, '0.2 C', 27),
  txt(1555, 596, FORMULA + '||Na', 26),
  txt(1990, 594, '0.2 C', 27, 'right'),
  txt(158, 1259, 'Initial capacity : 81.5 mAh g⁻¹', 26),
  txt(164, 1400, 'Capacity retention rate: 84.9%', 26),
  txt(164, 1435, 'Capacity fading rate: 0.0101% per cycle', 26),
  txt(1301, 1276, 'Final capacity 69.2 mAh g⁻¹', 26, 'right'),
  txt(796, 1438, FORMULA + ' |NaClO{s|4}(SN){s|3}|Na', 26),
  txt(1235, 1436, '0.5 C', 27),
  txt(1547, 1100, FORMULA + '|NaClO{s|4}(SN){s|3}|Na', 26),
  txt(1548, 1220, '0.5 C', 27)
];

var host = document.getElementById('chart');
panels.forEach(function (p, k) {
  var div = document.createElement('div');
  div.className = 'panel';
  host.appendChild(div);
  var b = BOX[k];
  var option = {
    animation: false,
    textStyle: { fontFamily: FONT },
    grid: [{ left: b[0], top: b[1], width: b[2], height: b[3], show: true, borderColor: '#000', borderWidth: 3,
             backgroundColor: 'transparent', containLabel: false, outerBoundsMode: 'none' }],
    xAxis: [p.x],
    yAxis: p.y,
    series: p.series
  };
  if (p.legend) option.legend = [p.legend];
  if (k === 0) option.graphic = notes;
  echarts.init(div).setOption(option);
});
</script>
</body>
</html>
